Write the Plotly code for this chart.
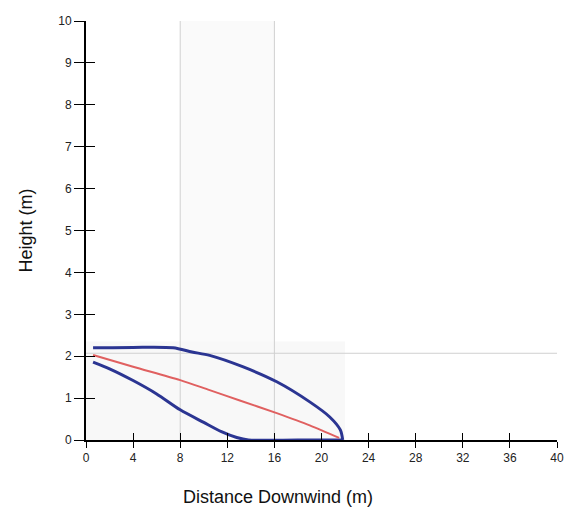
import plotly.graph_objects as go

# Plume envelope (upper boundary)
upper_x = [0.6, 4, 7.4, 9, 10.5, 13.3, 16.2, 19, 20.7, 21.6, 21.8]
upper_y = [2.2, 2.21, 2.2, 2.1, 2.02, 1.75, 1.39, 0.91, 0.55, 0.24, 0.0]
# lower boundary
lower_x = [0.6, 2, 4, 6, 8, 10, 11.5, 12.8, 13.8, 18, 21.8]
lower_y = [1.86, 1.7, 1.42, 1.1, 0.72, 0.42, 0.2, 0.06, 0.0, 0.0, 0.0]
# centreline
center_x = [0.6, 4, 8, 10.5, 13, 16.2, 19, 21.5]
center_y = [2.03, 1.75, 1.43, 1.19, 0.95, 0.64, 0.35, 0.05]

x_ticks = [0, 4, 8, 12, 16, 20, 24, 28, 32, 36, 40]
y_ticks = [0, 1, 2, 3, 4, 5, 6, 7, 8, 9, 10]
guide_x = [8, 16]
guide_y = 2.07

blue = "#2b3592"
red = "#e06060"

fig = go.Figure()

# light shaded regions (scan artefacts)
fig.add_shape(type="rect", x0=guide_x[0], x1=guide_x[1], y0=0, y1=10,
              fillcolor="#fafafa", line_width=0, layer="below")
fig.add_shape(type="rect", x0=0, x1=22, y0=0, y1=2.35,
              fillcolor="#f8f8f8", line_width=0, layer="below")
for gx in guide_x:
    fig.add_shape(type="line", x0=gx, x1=gx, y0=0, y1=10,
                  line=dict(color="#d0d0d0", width=1), layer="below")
fig.add_shape(type="line", x0=0, x1=40, y0=guide_y, y1=guide_y,
              line=dict(color="#d0d0d0", width=1), layer="below")

fig.add_trace(go.Scatter(x=upper_x, y=upper_y, mode="lines",
                         line=dict(color=blue, width=3, shape="spline", smoothing=0.8),
                         showlegend=False))
fig.add_trace(go.Scatter(x=lower_x, y=lower_y, mode="lines",
                         line=dict(color=blue, width=3, shape="spline", smoothing=0.8),
                         showlegend=False))
fig.add_trace(go.Scatter(x=center_x, y=center_y, mode="lines",
                         line=dict(color=red, width=2, shape="spline", smoothing=0.8),
                         showlegend=False))

tickfont = dict(family="Liberation Sans, Arial", size=12, color="#222")

fig.update_layout(
    width=566, height=516,
    margin=dict(l=86, r=9, t=21, b=76, autoexpand=False),
    paper_bgcolor="white", plot_bgcolor="white",
    xaxis=dict(range=[0, 40], tickvals=x_ticks, ticktext=[str(v) for v in x_ticks],
               showgrid=False, zeroline=False, showline=True, linecolor="black", linewidth=2,
               ticks="outside", ticklen=6, tickwidth=1, tickcolor="black",
               tickfont=tickfont, automargin=False, ticklabeloverflow="allow"),
    yaxis=dict(range=[0, 10], tickvals=y_ticks, ticktext=[str(v) for v in y_ticks],
               showgrid=False, zeroline=False, showline=True, linecolor="black", linewidth=2,
               ticks="outside", ticklen=10, tickwidth=1, tickcolor="black",
               tickfont=tickfont, automargin=False, ticklabeloverflow="allow"),
    xaxis2=dict(range=[0, 40], overlaying="x", tickvals=x_ticks, showticklabels=False,
                ticks="inside", ticklen=7, tickwidth=1, tickcolor="black",
                showgrid=False, zeroline=False, showline=False, anchor="y", automargin=False),
    yaxis2=dict(range=[0, 10], overlaying="y", tickvals=y_ticks, showticklabels=False,
                ticks="inside", ticklen=9, tickwidth=1, tickcolor="black",
                showgrid=False, zeroline=False, showline=False, anchor="x", automargin=False),
    annotations=[
        dict(text="Distance Downwind (m)", xref="paper", yref="paper",
             x=(278 - 86) / (557 - 86), y=-(497 - 440) / (440 - 21),
             showarrow=False, xanchor="center", yanchor="middle",
             font=dict(family="Liberation Sans, Arial", size=18, color="#111")),
        dict(text="Height (m)", xref="paper", yref="paper",
             x=-(86 - 25) / (557 - 86), y=0.5, textangle=-90,
             showarrow=False, xanchor="center", yanchor="middle",
             font=dict(family="Liberation Sans, Arial", size=18, color="#111")),
    ],
)
# invisible trace to activate the secondary (inside-tick) axes
fig.add_trace(go.Scatter(x=[0], y=[0], xaxis="x2", yaxis="y2", mode="markers",
                         marker=dict(opacity=0), showlegend=False, hoverinfo="skip"))

fig.write_html("out.html", config={"displayModeBar": False},
               post_script="document.body.style.margin='0';document.body.style.overflow='hidden';")
